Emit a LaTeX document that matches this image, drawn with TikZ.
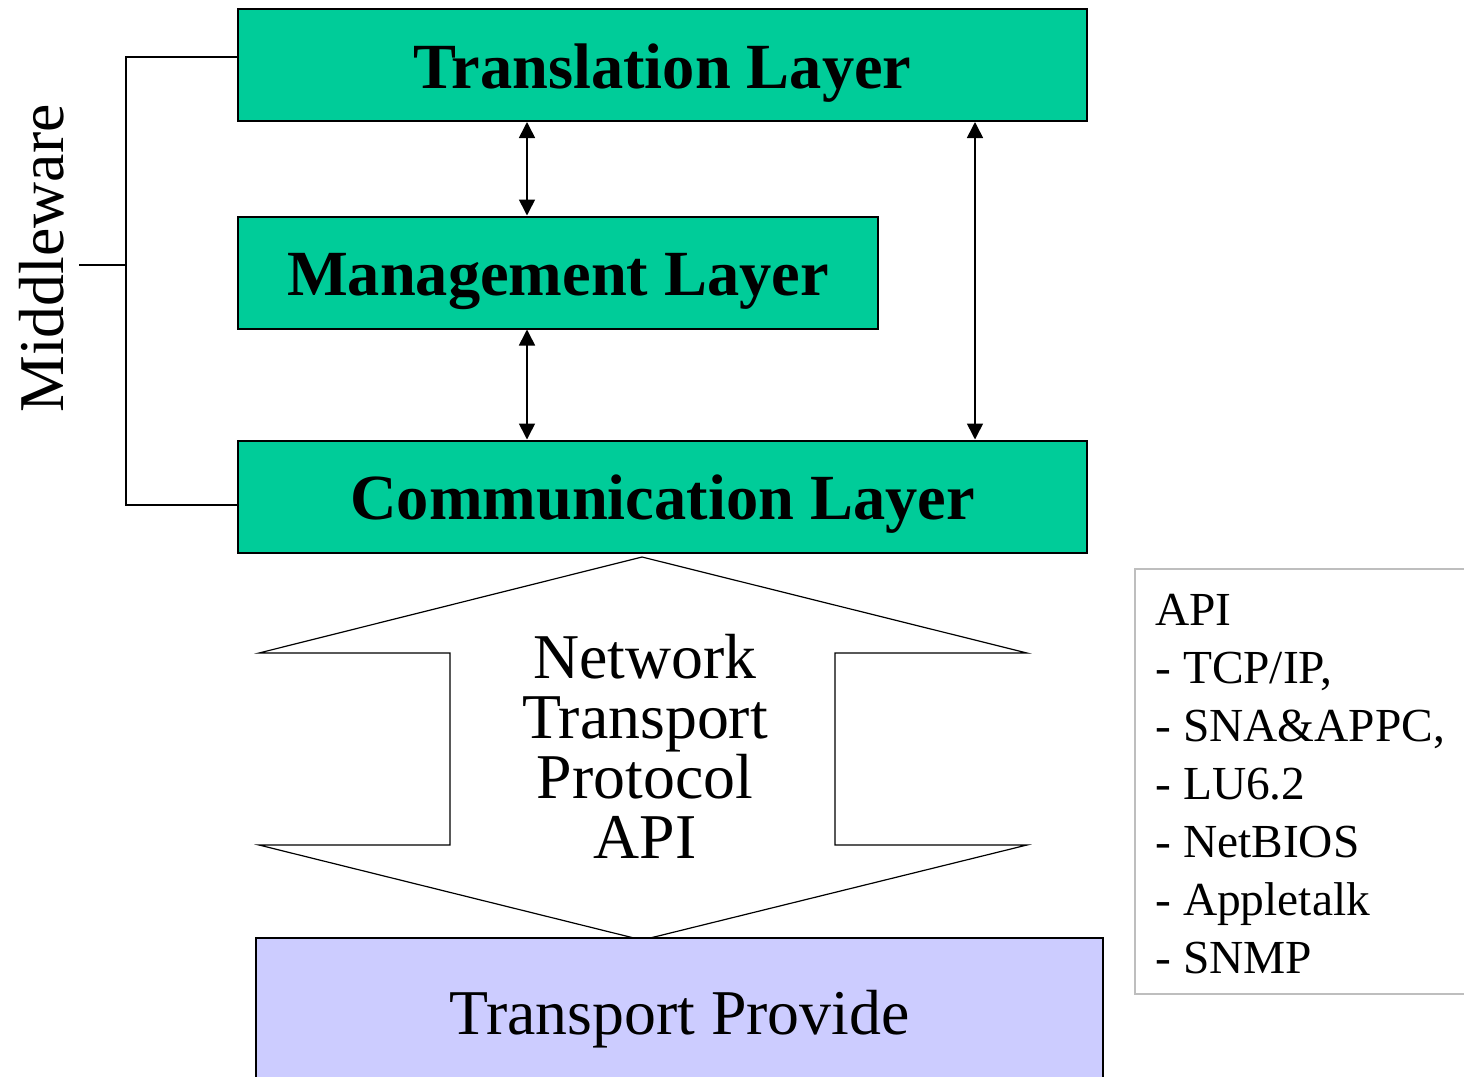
\documentclass[tikz,border=0pt]{standalone}
\usepackage{fontspec}
\setmainfont{Liberation Serif}
\usetikzlibrary{arrows.meta,calc}
\definecolor{layergreen}{RGB}{0,204,153}
\definecolor{provblue}{RGB}{204,204,255}
\definecolor{listgray}{RGB}{190,190,190}
\begin{document}
\begin{tikzpicture}[x=0.5pt,y=-0.5pt,
  layerbox/.style={draw=black, line width=1pt, fill=layergreen, inner sep=0pt,
    minimum height=56pt, text height=23pt, text depth=0pt,
    font=\fontsize{32.2}{38}\selectfont\bfseries},
  link/.style={line width=0.8pt,
    {Triangle[length=8pt,width=8pt]}-{Triangle[length=8pt,width=8pt]}},
  bracket/.style={line width=0.7pt},
  bigtext/.style={font=\fontsize{31.9}{30}\selectfont},
  listtext/.style={font=\fontsize{23.7}{29}\selectfont},
]
\useasboundingbox (0,0) rectangle (1464,1077);
\begin{scope}
\clip (0,0) rectangle (1464,1077);

% the three middleware layers
\node[layerbox, minimum width=424.5pt] (trans) at (662.5,65) {Translation Layer};
\node[layerbox, minimum width=320pt] (mgmt) at (558,272.5) {Management Layer};
\node[layerbox, minimum width=424.5pt] (comm) at (662.5,496.5) {Communication Layer};

% two-way links between the layers
\coordinate (colA) at (527,0);
\coordinate (colB) at (975,0);
\draw[link] (trans.south -| colA) -- (mgmt.north -| colA);
\draw[link] (mgmt.south -| colA) -- (comm.north -| colA);
\draw[link] (trans.south -| colB) -- (comm.north -| colB);

% bracket grouping the layers as middleware
\node[font=\fontsize{31.9}{38}\selectfont, rotate=90, anchor=base, inner sep=7.5pt]
  (mw) at (63,258.5) {Middleware};
\coordinate (bx) at (126,0);
\coordinate (topY) at (0,57);
\coordinate (botY) at (0,505);
\coordinate (tickY) at (0,265);
\draw[bracket] (trans.west |- topY) -- (bx |- topY) -- (bx |- botY) -- (comm.west |- botY);
\draw[bracket] (mw.south |- tickY) -- (bx |- tickY);

% up-down block arrow for the transport protocol API
\draw[line width=0.6pt, fill=white]
  (642,557) -- (1027,653) -- (835,653) -- (835,845) -- (1027,845) -- (642,940)
  -- (259,845) -- (450,845) -- (450,653) -- (259,653) -- cycle;
\node[bigtext, align=center, anchor=north, inner sep=0pt] (ntp) at (645,634)
  {Network\\Transport\\Protocol\\API};

% transport provider
\node[draw=black, line width=1pt, fill=provblue, anchor=north west, inner sep=0pt,
  minimum width=423.5pt, minimum height=73pt, text height=23pt, text depth=0pt,
  font=\fontsize{31.9}{38}\selectfont] (prov) at (255,937) {Transport Provide};

% list of protocol APIs
\draw[draw=listgray, line width=1pt] (1135,569) rectangle (1490,994);
\node[listtext, align=left, anchor=north west, inner sep=0pt] (apis) at (1155,594)
  {API\\- TCP/IP,\\- SNA\&APPC,\\- LU6.2\\- NetBIOS\\- Appletalk\\- SNMP};
\end{scope}
\end{tikzpicture}
\end{document}
